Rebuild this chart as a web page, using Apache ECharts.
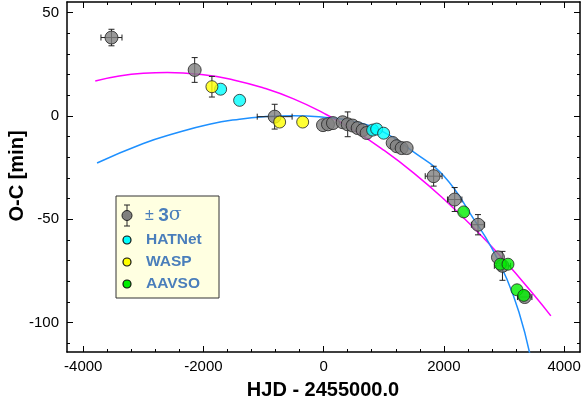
<!DOCTYPE html>
<html><head><meta charset="utf-8">
<script src="https://cdn.jsdelivr.net/npm/echarts@6/dist/echarts.min.js"></script>
<style>html,body{margin:0;padding:0;background:#fff}#c{width:581px;height:407px}</style>
</head><body><div id="c"></div>
<script>
// ---- data ----
const grayPts = [[-3530,38],[-2146,22.3],[-815,-0.3],[-11,-4.4],[72,-4.0],[155,-3.4],[316,-3.0],[400,-4.0],[483,-4.6],[566,-5.8],[649,-6.8],[715,-8.2],[1148,-13],[1215,-14.6],[1298,-15.5],[1381,-15.5],[1830,-29.1],[2180,-40.4],[2568,-52.6],[2900,-68.4],[2975,-72.5],[3345,-87.6]];
const hatnetPts = [[-1714,13],[-1398,7.6],[815,-6.8],[882,-6.3],[998,-8.3]];
const waspPts = [[-1859,14.2],[-732,-2.9],[-349,-2.9]];
const aavsoPts = [[2330,-46.4],[2940,-71.7],[3067,-71.7],[3217,-84.1],[3330,-86.8]];
// error bars: [x, y, xErr, yErr]
const errBars = [[-3530,38,175,4],[-2146,22.3,0,6],[-1859,14.2,0,5],[-815,-0.3,290,6],[400,-4.0,0,6],[1830,-29.1,140,4.8],[2180,-40.4,120,5.8],[2568,-52.6,110,4.9],[2975,-72.5,135,7],[3345,-87.6,120,0]];
const blueCurve = [[-3770,-22.7],[-3000,-13.3],[-2500,-8.6],[-1900,-4.0],[-1400,-1.5],[-1000,-0.3],[-500,0.2],[0,-0.6],[500,-2.6],[1000,-7.8],[1500,-17.5],[2000,-29],[2500,-50],[2800,-64],[3050,-79],[3250,-95],[3430,-115]];
const magentaCurve = [[-3800,17.0],[-3000,20.7],[-2600,21.1],[-2000,20.0],[-1500,17.5],[-1000,13.6],[-500,8.3],[0,1.4],[500,-6.8],[1000,-16.5],[1500,-27.6],[2000,-40.2],[2500,-54.2],[3000,-69.7],[3500,-86.6],[3780,-96.7]];
const xMajor = [-4000,-2000,0,2000,4000];
const xMinor = [-4000,-3600,-3200,-2800,-2400,-2000,-1600,-1200,-800,-400,0,400,800,1200,1600,2000,2400,2800,3200,3600,4000];
const yMajor = [-100,-50,0,50];
const yMinor = [-110,-100,-90,-80,-70,-60,-50,-40,-30,-20,-10,0,10,20,30,40,50];
const xTitle = 'HJD - 2455000.0';
const yTitle = 'O-C [min]';
const legendItems = ['HATNet','WASP','AAVSO'];

const XMIN=-4270, XMAX=4265, YMIN=-114.2, YMAX=55.2;
const FONT='Liberation Sans, Arial, sans-serif';

function xAx(pos, vals, len, showLine, showLabel){
  return {type:'value', position:pos, min:XMIN, max:XMAX, splitLine:{show:false},
    axisLine:{show:showLine, onZero:false, lineStyle:{color:'#000', width:1.5}},
    axisTick:{show:true, inside:true, length:len, customValues:vals, lineStyle:{color:'#000', width:1}},
    axisLabel:{show:showLabel, customValues:vals, formatter:v=>String(v), color:'#000', fontSize:15, fontFamily:FONT, margin:7, hideOverlap:false}};
}
function yAx(pos, vals, len, showLine, showLabel){
  return {type:'value', position:pos, min:YMIN, max:YMAX, splitLine:{show:false},
    axisLine:{show:showLine, onZero:false, lineStyle:{color:'#000', width:1.5}},
    axisTick:{show:true, inside:true, length:len, customValues:vals, lineStyle:{color:'#000', width:1}},
    axisLabel:{show:showLabel, customValues:vals, formatter:v=>String(v), color:'#000', fontSize:15, fontFamily:FONT, margin:8}};
}

const chart = echarts.init(document.getElementById('c'), null, {renderer:'canvas'});
const markBorder = {borderColor:'#222', borderWidth:1};
const legendTextColor = '#4a7ebb';
const lx = 127;
const legendYs = [240, 262, 284];
const legendColors = ['#00ffff','#ffff00','#00ee00'];
const graphics = [
  {type:'rect', shape:{x:116, y:196, width:103, height:102}, style:{fill:'#ffffe1', stroke:'#333', lineWidth:1}, z:50},
  {type:'line', shape:{x1:lx, y1:205, x2:lx, y2:226}, style:{stroke:'#222', lineWidth:1}, z:51},
  {type:'line', shape:{x1:lx-3, y1:205, x2:lx+3, y2:205}, style:{stroke:'#222', lineWidth:1}, z:51},
  {type:'line', shape:{x1:lx-3, y1:226, x2:lx+3, y2:226}, style:{stroke:'#222', lineWidth:1}, z:51},
  {type:'circle', shape:{cx:lx, cy:215.5, r:5}, style:{fill:'#7f7f7f', stroke:'#222', lineWidth:1}, z:52},
  {type:'text', x:145, y:215.5, style:{text:'{a|\u00b1 }{b|3}{c|\u03c3}', verticalAlign:'middle', rich:{
    a:{fill:legendTextColor, fontSize:16, fontFamily:FONT},
    b:{fill:legendTextColor, fontSize:19, fontWeight:'bold', fontFamily:FONT},
    c:{fill:legendTextColor, fontSize:19, fontFamily:'DejaVu Serif, serif'}}}, z:52},
  {type:'text', x:323, y:390, style:{text:xTitle, fill:'#000', fontSize:20, fontWeight:'bold', fontFamily:FONT, align:'center', verticalAlign:'middle'}},
  {type:'text', x:17, y:176, rotation:Math.PI/2, style:{text:yTitle, fill:'#000', fontSize:20, fontWeight:'bold', fontFamily:FONT, align:'center', verticalAlign:'middle'}}
];
legendItems.forEach((t,i)=>{
  graphics.push({type:'circle', shape:{cx:lx, cy:legendYs[i], r:4}, style:{fill:legendColors[i], stroke:'#111', lineWidth:1.2}, z:52});
  graphics.push({type:'text', x:146, y:legendYs[i], style:{text:t, fill:legendTextColor, fontSize:15.5, fontWeight:'bold', fontFamily:FONT, verticalAlign:'middle'}, z:52});
});

function renderErr(params, api){
  const x=api.value(0), y=api.value(1), ex=api.value(2), ey=api.value(3);
  const ch=[]; const st={stroke:'#222', lineWidth:1};
  if(ey>0){
    const a=api.coord([x,y+ey]), b=api.coord([x,y-ey]);
    ch.push({type:'line', shape:{x1:a[0],y1:a[1],x2:b[0],y2:b[1]}, style:st});
    ch.push({type:'line', shape:{x1:a[0]-3,y1:a[1],x2:a[0]+3,y2:a[1]}, style:st});
    ch.push({type:'line', shape:{x1:b[0]-3,y1:b[1],x2:b[0]+3,y2:b[1]}, style:st});
  }
  if(ex>0){
    const a=api.coord([x-ex,y]), b=api.coord([x+ex,y]);
    ch.push({type:'line', shape:{x1:a[0],y1:a[1],x2:b[0],y2:b[1]}, style:st});
    ch.push({type:'line', shape:{x1:a[0],y1:a[1]-3,x2:a[0],y2:a[1]+3}, style:st});
    ch.push({type:'line', shape:{x1:b[0],y1:b[1]-3,x2:b[0],y2:b[1]+3}, style:st});
  }
  return {type:'group', children:ch};
}

chart.setOption({
  animation:false,
  backgroundColor:'#fff',
  grid:{left:67, right:1, top:2, bottom:55, containLabel:false, outerBoundsMode:'none'},
  xAxis:[xAx('bottom', xMajor, 6, true, true), xAx('bottom', xMinor, 3, false, false), xAx('top', xMajor, 6, true, false), xAx('top', xMinor, 3, false, false)],
  yAxis:[yAx('left', yMajor, 6, true, true), yAx('left', yMinor, 3, false, false), yAx('right', yMajor, 6, true, false), yAx('right', yMinor, 3, false, false)],
  series:[
    {type:'line', data:magentaCurve, smooth:true, showSymbol:false, symbol:'none', lineStyle:{color:'#ff00ff', width:1.5}, z:1, clip:true},
    {type:'line', data:blueCurve, smooth:true, showSymbol:false, symbol:'none', lineStyle:{color:'#1e90ff', width:1.5}, z:1, clip:true},
    {type:'custom', data:errBars, renderItem:renderErr, z:2, clip:true},
    {type:'scatter', data:grayPts, symbolSize:13, itemStyle:Object.assign({color:'#7f7f7f'}, markBorder), z:3},
    {type:'scatter', data:hatnetPts, symbolSize:12, itemStyle:Object.assign({color:'#00ffff'}, markBorder), z:4},
    {type:'scatter', data:waspPts, symbolSize:12, itemStyle:Object.assign({color:'#ffff00'}, markBorder), z:4},
    {type:'scatter', data:aavsoPts, symbolSize:12, itemStyle:Object.assign({color:'#00ee00'}, markBorder), z:4}
  ],
  graphic:graphics
});
</script></body></html>
